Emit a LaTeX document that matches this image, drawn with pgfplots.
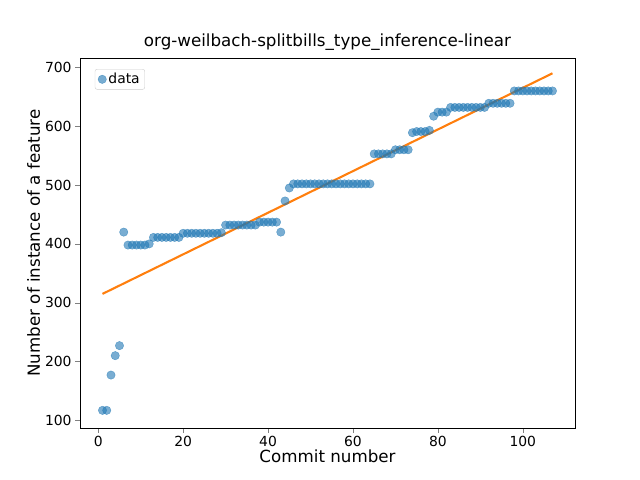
\documentclass[border=0pt]{standalone}
\usepackage{pgfplots}
\pgfplotsset{compat=1.18}
\usepackage{fontspec}
\setmainfont{DejaVu Sans}
\definecolor{c0}{HTML}{1F77B4}\definecolor{c1}{HTML}{FF7F0E}
\begin{document}
\begin{tikzpicture}
\useasboundingbox (-80bp,-52bp) rectangle (560bp,428bp);
\begin{axis}[at={(0,0)},anchor=south west,scale only axis,width=495bp,height=370bp,
xmin=-4.3,xmax=112.3,ymin=87,ymax=716,
xtick={0,20,40,60,80,100},ytick={100,200,...,700},
tick label style={font=\fontsize{13.9bp}{16bp}\selectfont},
/pgf/number format/assume math mode=true,
title={org-weilbach-splitbills\_type\_inference-linear},
title style={font=\fontsize{16.7bp}{19bp}\selectfont,yshift=-2bp},
xlabel={Commit number},ylabel={Number of instance of a feature},
label style={font=\fontsize{16.7bp}{19bp}\selectfont},
xlabel style={yshift=4bp},ylabel style={yshift=-2bp},
major tick length=4.9bp,
tick align=outside,xtick pos=bottom,ytick pos=left,
legend pos=north west,legend style={font=\fontsize{13.9bp}{16bp}\selectfont,draw=black!20,rounded corners=2pt},legend cell align=left]
\addplot[only marks,mark=*,mark size=4.2bp,color=c0,fill opacity=0.6,draw opacity=0.6] coordinates {
(1,117)(2,117)(3,177)(4,210)(5,227)(6,420)(7,398)(8,398)(9,398)(10,398)(11,398)(12,400)
(13,411)(14,411)(15,411)(16,411)(17,411)(18,411)(19,411)
(20,418)(21,418)(22,418)(23,418)(24,418)(25,418)(26,418)(27,418)(28,418)(29,419)
(30,432)(31,432)(32,432)(33,432)(34,432)(35,432)(36,432)(37,432)(38,437)(39,437)(40,437)(41,437)(42,437)
(43,420)(44,473)(45,495)
(46,502)(47,502)(48,502)(49,502)(50,502)(51,502)(52,502)(53,502)(54,502)(55,502)(56,502)(57,502)(58,502)(59,502)(60,502)(61,502)(62,502)(63,502)(64,502)
(65,553)(66,553)(67,553)(68,553)(69,553)(70,560)(71,560)(72,560)(73,560)
(74,589)(75,591)(76,591)(77,591)(78,593)(79,617)(80,624)(81,624)(82,624)
(83,632)(84,632)(85,632)(86,632)(87,632)(88,632)(89,632)(90,632)(91,632)
(92,639)(93,639)(94,639)(95,639)(96,639)(97,639)
(98,660)(99,660)(100,660)(101,660)(102,660)(103,660)(104,660)(105,660)(106,660)(107,660)};
\addlegendentry{data}
\addplot[color=c1,line width=2.1bp] coordinates {(1,315)(107,690)};
\end{axis}
\end{tikzpicture}
\end{document}
